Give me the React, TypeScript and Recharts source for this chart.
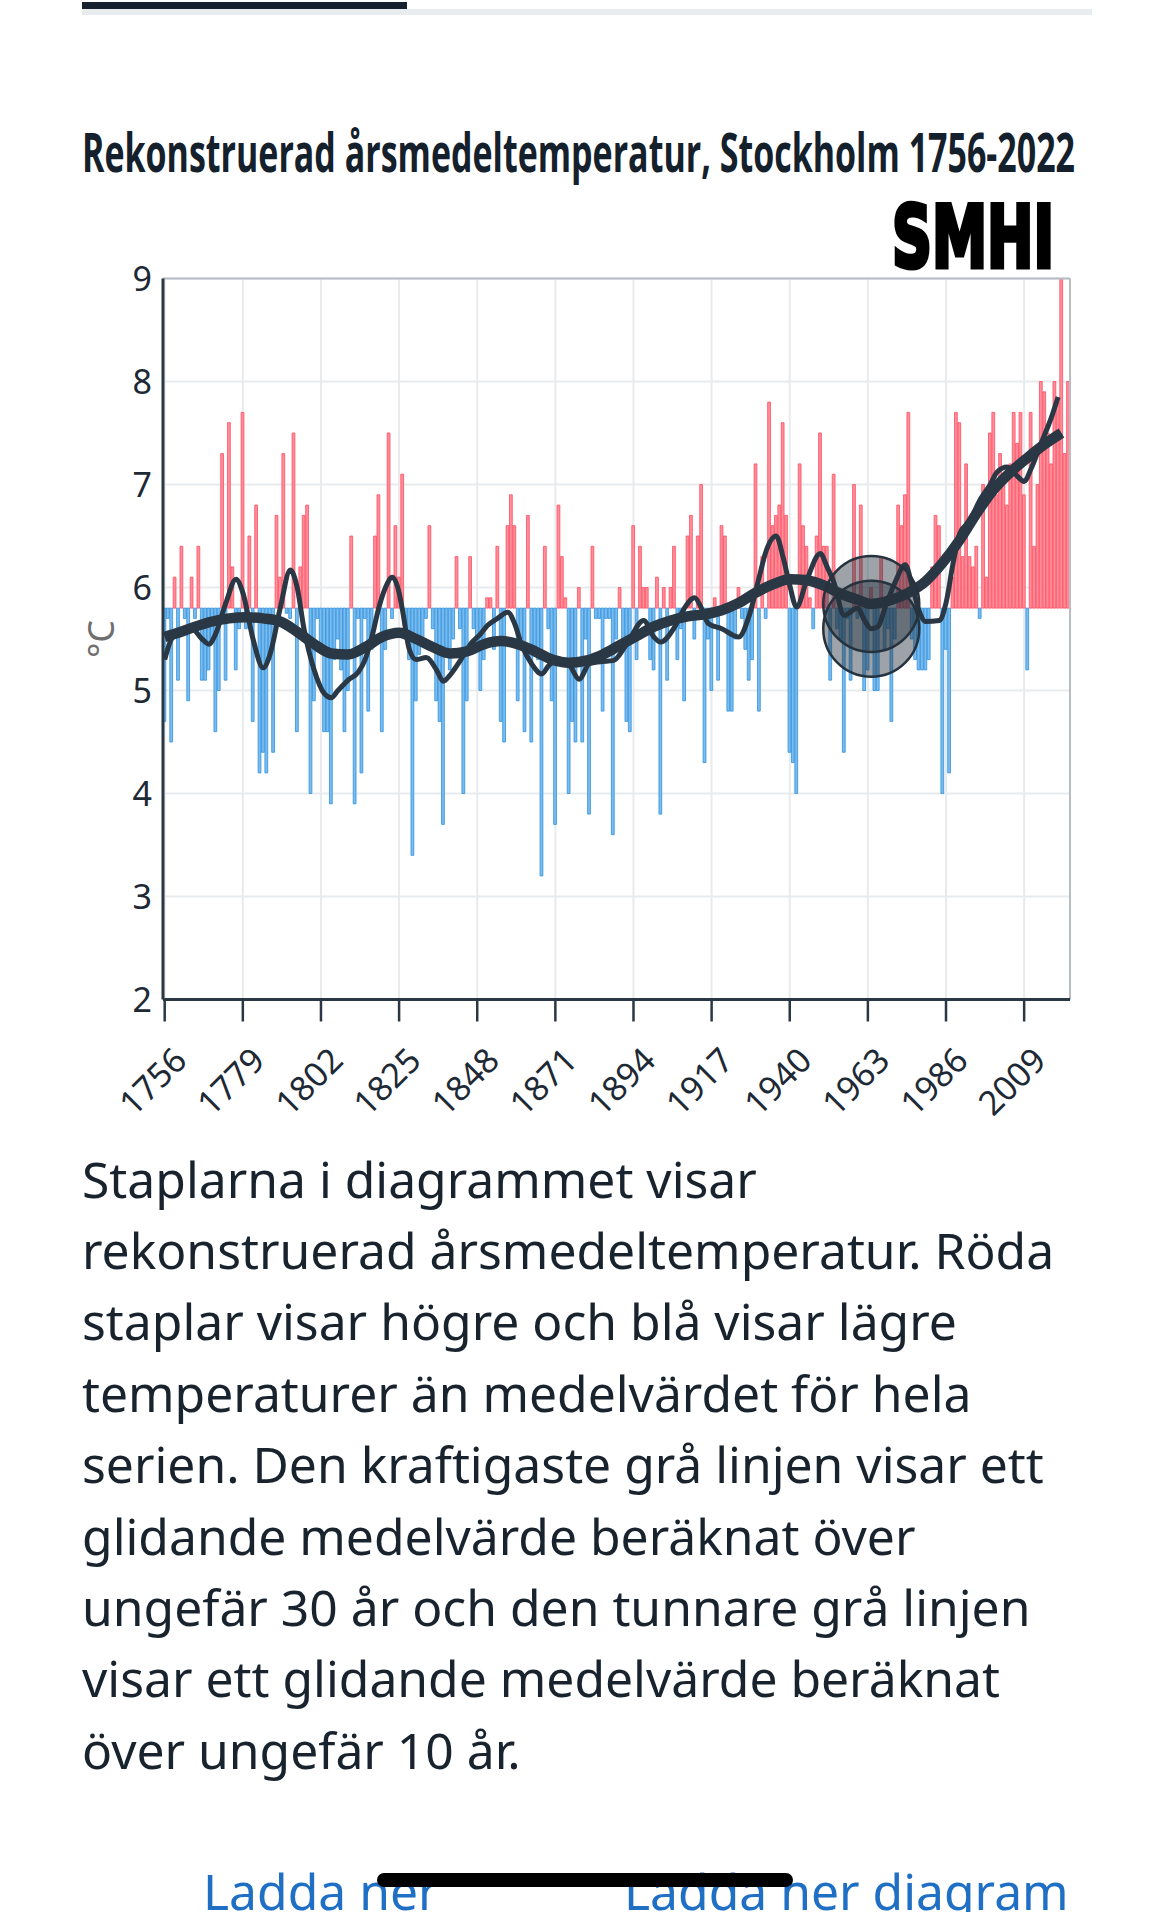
import React from "react";
import {
  Bar,
  CartesianGrid,
  Cell,
  ComposedChart,
  Line,
  ReferenceLine,
  XAxis,
  YAxis,
} from "recharts";

// Reconstructed annual mean temperature, Stockholm 1756-2022 (°C)
const FIRST_YEAR = 1756;
const SERIES_MEAN = 5.8;

const annualMeanTemp = [
  // 1756-1775
  4.7, 5.7, 4.5, 6.1, 5.1, 6.4, 5.7, 4.9, 6.1, 5.7, 6.4, 5.1, 5.1, 5.2, 5.5, 4.6, 5.0, 7.3, 5.1, 7.6,
  // 1776-1795
  6.2, 5.2, 5.6, 7.7, 5.6, 6.5, 4.7, 6.8, 4.2, 4.4, 4.2, 5.3, 4.4, 6.7, 6.1, 7.3, 5.75, 5.7, 7.5, 4.6,
  // 1796-1815
  6.2, 6.7, 6.8, 4.0, 4.9, 5.7, 5.4, 4.6, 4.6, 3.9, 5.3, 5.5, 5.2, 4.6, 5.0, 6.5, 3.9, 5.7, 4.2, 5.7,
  // 1816-1835
  4.8, 5.4, 6.5, 6.9, 4.6, 5.4, 7.5, 5.7, 6.6, 6.1, 7.1, 5.5, 5.3, 3.4, 4.9, 5.35, 5.5, 5.7, 6.6, 5.6,
  // 1836-1855
  4.9, 4.7, 3.7, 5.4, 5.2, 5.5, 6.3, 5.6, 4.0, 4.9, 6.3, 5.6, 5.4, 5.0, 5.3, 5.9, 5.9, 5.4, 6.4, 4.7,
  // 1856-1875
  4.5, 6.6, 6.9, 6.6, 4.9, 5.5, 4.6, 6.7, 4.5, 5.4, 5.3, 3.2, 6.4, 5.6, 4.9, 3.7, 6.8, 6.3, 5.9, 4.0,
  // 1876-1895
  4.7, 4.5, 6.0, 4.5, 5.5, 3.8, 6.4, 5.7, 5.7, 4.8, 5.7, 5.7, 3.6, 5.5, 6.0, 5.5, 4.7, 4.6, 6.6, 5.3,
  // 1896-1915
  6.4, 6.0, 6.0, 5.3, 5.2, 6.1, 3.8, 6.0, 5.1, 6.0, 6.4, 5.3, 5.6, 4.9, 6.5, 6.7, 5.5, 6.5, 7.0, 4.3,
  // 1916-1935
  5.5, 5.0, 5.9, 5.1, 6.6, 6.5, 4.8, 4.8, 5.5, 6.0, 5.7, 5.4, 5.1, 5.3, 7.2, 4.8, 6.3, 5.7, 7.8, 6.6,
  // 1936-1955
  6.7, 6.8, 7.6, 6.7, 4.4, 4.3, 4.0, 7.2, 6.6, 6.4, 5.9, 5.6, 6.5, 7.5, 6.4, 6.4, 5.1, 7.1, 5.6, 5.5,
  // 1956-1975
  4.4, 5.7, 5.1, 7.0, 5.7, 6.8, 5.0, 5.2, 6.0, 5.0, 5.0, 6.3, 5.4, 5.6, 4.7, 5.5, 6.8, 6.6, 6.9, 7.7,
  // 1976-1995
  5.5, 5.3, 5.2, 5.2, 5.2, 5.3, 6.2, 6.7, 6.6, 4.0, 5.4, 4.2, 6.1, 7.7, 7.6, 6.3, 7.2, 6.3, 6.2, 6.4,
  // 1996-2015
  5.7, 7.0, 6.1, 7.5, 7.7, 6.9, 7.3, 7.1, 6.8, 7.2, 7.7, 7.4, 7.7, 6.9, 5.2, 7.7, 6.4, 7.0, 8.0, 7.9,
  // 2016-2022
  7.5, 7.2, 8.0, 7.8, 9.0, 7.3, 8.0,
];

// ~30 year moving average (thick line)
const smooth30Years = [
  1756, 1760, 1765, 1770, 1775, 1780, 1785, 1790, 1795, 1800, 1805, 1810, 1815, 1820, 1825, 1830,
  1835, 1840, 1845, 1850, 1855, 1860, 1865, 1870, 1875, 1880, 1885, 1890, 1895, 1900, 1905, 1910,
  1915, 1920, 1925, 1930, 1935, 1940, 1945, 1950, 1955, 1960, 1964, 1970, 1975, 1980, 1985, 1990,
  1995, 2000, 2005, 2010, 2015, 2020,
];
const smooth30Values = [
  5.52, 5.56, 5.62, 5.67, 5.7, 5.71, 5.7, 5.67, 5.57, 5.45, 5.36, 5.35, 5.42, 5.52, 5.56, 5.5,
  5.42, 5.36, 5.38, 5.45, 5.48, 5.45, 5.38, 5.3, 5.27, 5.29, 5.35, 5.44, 5.53, 5.62, 5.68, 5.72,
  5.74, 5.78, 5.85, 5.95, 6.03, 6.08, 6.07, 6.02, 5.94, 5.88, 5.84, 5.88, 5.95, 6.06, 6.24, 6.46,
  6.72, 6.95, 7.12, 7.26, 7.39, 7.5,
];

// ~10 year moving average (thin line)
const smooth10Years = [
  1756, 1758, 1761, 1764, 1767, 1769, 1771, 1774, 1777, 1779, 1782, 1785, 1787, 1790, 1793, 1795,
  1797, 1800, 1803, 1805, 1807, 1810, 1813, 1815, 1817, 1819, 1821, 1823, 1825, 1826, 1828, 1830,
  1833, 1836, 1838, 1840, 1843, 1846, 1849, 1851, 1854, 1857, 1859, 1861, 1864, 1867, 1869, 1871,
  1875, 1878, 1881, 1884, 1888, 1892, 1897, 1900, 1902, 1906, 1909, 1912, 1914, 1916, 1920, 1925,
  1928, 1931, 1933, 1936, 1938, 1940, 1942, 1945, 1949, 1951, 1953, 1956, 1960, 1962, 1964, 1966,
  1968, 1971, 1974, 1976, 1978, 1980, 1984, 1986, 1988, 1990, 1993, 1996, 1999, 2001, 2004, 2007,
  2009, 2011, 2014, 2017, 2019,
];
const smooth10Values = [
  5.3, 5.5, 5.58, 5.6, 5.5, 5.45, 5.55, 5.85, 6.08, 5.95, 5.5, 5.22, 5.35, 5.8, 6.17, 6.0,
  5.6, 5.2, 4.97, 4.93, 5.0, 5.1, 5.18, 5.3, 5.52, 5.8, 6.0, 6.1, 5.95, 5.78, 5.4, 5.3,
  5.32, 5.2, 5.09, 5.15, 5.29, 5.45, 5.55, 5.63, 5.7, 5.76, 5.65, 5.45, 5.26, 5.16, 5.24, 5.29,
  5.25, 5.11, 5.26, 5.28, 5.29, 5.45, 5.68, 5.52, 5.47, 5.61, 5.8, 5.9, 5.8, 5.65, 5.6, 5.52,
  5.72, 6.1, 6.35, 6.5, 6.3, 6.02, 5.81, 6.07, 6.33, 6.2, 6.05, 5.73, 5.8, 5.68, 5.6, 5.62,
  5.8, 6.05, 6.22, 6.02, 5.78, 5.67, 5.68, 5.85, 6.22, 6.52, 6.65, 6.85, 7.0, 7.12, 7.17, 7.08,
  7.03, 7.15, 7.4, 7.65, 7.85,
];

const HOVER_YEAR = 1964;

const xTicks = [1756, 1779, 1802, 1825, 1848, 1871, 1894, 1917, 1940, 1963, 1986, 2009];
const yTicks = [2, 3, 4, 5, 6, 7, 8, 9];

const paragraphLines = [
  "Staplarna i diagrammet visar",
  "rekonstruerad årsmedeltemperatur. Röda",
  "staplar visar högre och blå visar lägre",
  "temperaturer än medelvärdet för hela",
  "serien. Den kraftigaste grå linjen visar ett",
  "glidande medelvärde beräknat över",
  "ungefär 30 år och den tunnare grå linjen",
  "visar ett glidande medelvärde beräknat",
  "över ungefär 10 år.",
];

const barData = annualMeanTemp.map((temp, i) => ({ year: FIRST_YEAR + i, temp }));
const smooth30 = smooth30Years.map((year, i) => ({ year, value: smooth30Values[i] }));
const smooth10 = smooth10Years.map((year, i) => ({ year, value: smooth10Values[i] }));

const DARK = "#2a3744";
const FONT = "'Noto Sans', 'Open Sans', sans-serif";

const XTick = ({ x, y, payload }: any) => (
  <text
    x={x + 24}
    y={y + 39}
    transform={`rotate(-45 ${x + 24} ${y + 39})`}
    textAnchor="end"
    fontSize={34}
    fill="#1d2935"
    fontFamily={FONT}
  >
    {payload.value}
  </text>
);

const hoverDot = (props: any) => {
  const { cx, cy, payload, index } = props;
  if (!payload || payload.year !== HOVER_YEAR) return <g key={`dot-${index}`} />;
  return (
    <circle
      key={`dot-${index}`}
      cx={cx}
      cy={cy}
      r={48}
      fill="rgba(38,50,62,0.45)"
      stroke="#26323e"
      strokeWidth={2.5}
    />
  );
};

export default function App() {
  return (
    <div
      style={{
        position: "absolute",
        left: 0,
        top: 0,
        width: 1170,
        height: 1912,
        overflow: "hidden",
        background: "#fff",
        fontFamily: FONT,
      }}
    >
      {/* tab indicator */}
      <div style={{ position: "absolute", left: 82, top: 9, width: 1010, height: 6, background: "#e9ecef" }} />
      <div style={{ position: "absolute", left: 82, top: 2, width: 325, height: 7, background: "#15212c" }} />

      <div style={{ position: "absolute", left: 0, top: 0 }}>
        <ComposedChart
          width={1170}
          height={1130}
          data={barData}
          margin={{ top: 278.5, right: 100, bottom: 30.5, left: 103 }}
        >
          <CartesianGrid stroke="#e8ebee" strokeWidth={2} />
          <XAxis
            dataKey="year"
            type="number"
            domain={[1755.5, 2022.5]}
            allowDataOverflow
            ticks={xTicks}
            interval={0}
            height={100}
            axisLine={{ stroke: DARK, strokeWidth: 3 }}
            tickLine={{ stroke: DARK, strokeWidth: 2.5 }}
            tickSize={22}
            tick={<XTick />}
          />
          <YAxis
            type="number"
            domain={[2, 9]}
            ticks={yTicks}
            interval={0}
            width={60}
            axisLine={{ stroke: DARK, strokeWidth: 3 }}
            tickLine={false}
            tickSize={9}
            tickMargin={2}
            tick={{ fontSize: 34, fill: "#1d2935", fontFamily: FONT }}
            label={({ viewBox }: any) => {
              const cx = viewBox.x + viewBox.width - 63;
              const cy = viewBox.y + viewBox.height / 2;
              return (
                <text
                  x={cx}
                  y={cy}
                  transform={`rotate(-90 ${cx} ${cy})`}
                  textAnchor="middle"
                  dominantBaseline="central"
                  fontSize={36}
                  fill="#6f6f6f"
                  fontFamily={FONT}
                >
                  °C
                </text>
              );
            }}
          />
          <ReferenceLine y={9} stroke="#b7bdc3" strokeWidth={2} />
          <ReferenceLine x={2022.5} stroke="#b7bdc3" strokeWidth={2} />
          <Bar
            dataKey={(d: any) => [Math.min(SERIES_MEAN, d.temp), Math.max(SERIES_MEAN, d.temp)]}
            barSize={2.8}
            isAnimationActive={false}
          >
            {barData.map((d) => (
              <Cell
                key={`bar-${d.year}`}
                fill={d.temp >= SERIES_MEAN ? "#ff8e9b" : "#7bbcee"}
                stroke={d.temp >= SERIES_MEAN ? "#ff4c5f" : "#2f91de"}
                strokeWidth={0.8}
              />
            ))}
          </Bar>
          <Line
            data={smooth30}
            dataKey="value"
            type="monotone"
            stroke={DARK}
            strokeWidth={10.5}
            dot={hoverDot}
            activeDot={false}
            isAnimationActive={false}
          />
          <Line
            data={smooth10}
            dataKey="value"
            type="monotone"
            stroke={DARK}
            strokeWidth={5}
            strokeLinejoin="round"
            dot={hoverDot}
            activeDot={false}
            isAnimationActive={false}
          />
        </ComposedChart>
      </div>

      {/* title and logo */}
      <svg width={1170} height={285} style={{ position: "absolute", left: 0, top: 0 }}>
        <text
          x={82}
          y={172}
          fontSize={54}
          fontWeight={700}
          fontFamily="'Open Sans', 'Noto Sans', sans-serif"
          fill="#14202c"
          textLength={993}
          lengthAdjust="spacingAndGlyphs"
        >
          Rekonstruerad årsmedeltemperatur, Stockholm 1756-2022
        </text>
        <text
          x={892}
          y={267}
          fontSize={86}
          fontWeight={700}
          fontFamily="'DejaVu Sans', sans-serif"
          fill="#000"
          stroke="#000"
          strokeWidth={5}
          textLength={162}
          lengthAdjust="spacingAndGlyphs"
        >
          SMHI
        </text>
      </svg>

      {/* description */}
      <svg width={1170} height={800} style={{ position: "absolute", left: 0, top: 1112 }}>
        {paragraphLines.map((line, i) => (
          <text key={i} x={82} y={85.6 + i * 71.4} fontSize={49.8} fontFamily={FONT} fill="#18232e">
            {line}
          </text>
        ))}
        <text x={203} y={798} fontSize={49.8} fontFamily={FONT} fill="#1f6fc5">
          Ladda ner
        </text>
        <text x={624} y={798} fontSize={49.8} fontFamily={FONT} fill="#1f6fc5">
          Ladda ner diagram
        </text>
      </svg>

      <div
        style={{
          position: "absolute",
          left: 377,
          top: 1873,
          width: 416,
          height: 14,
          borderRadius: 7,
          background: "#000",
        }}
      />
    </div>
  );
}
